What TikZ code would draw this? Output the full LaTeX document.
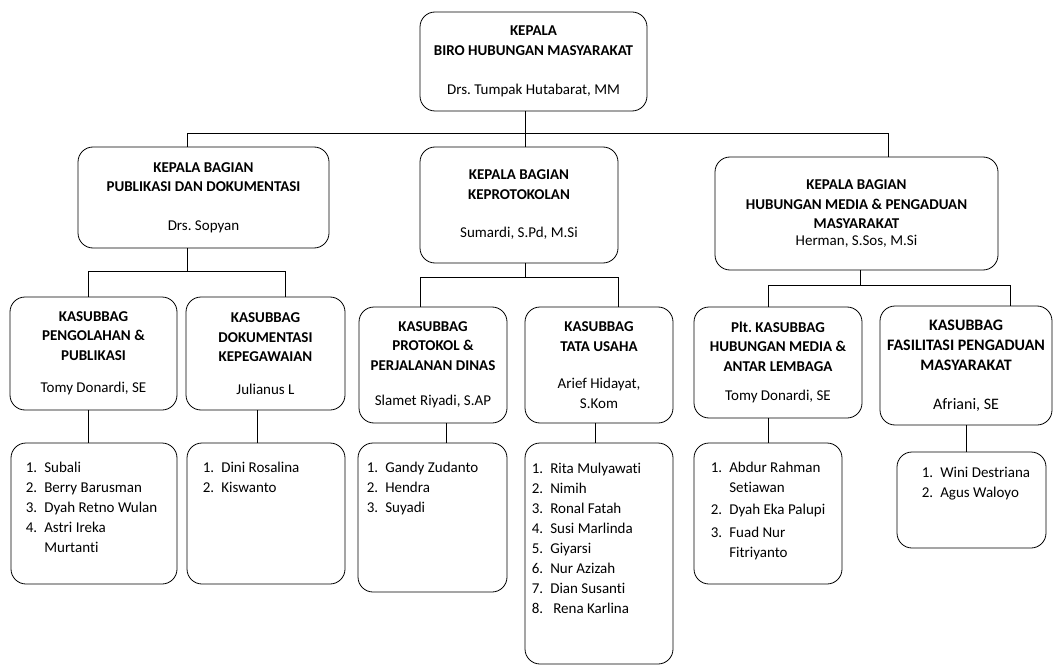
\documentclass[tikz,border=0pt]{standalone}
\usepackage{fontspec}
\setmainfont{Carlito}[Ligatures=NoCommon]
\usepackage{tikz}
\frenchspacing

\begin{document}
\begin{tikzpicture}[x=1pt,y=-1pt,
  every node/.style={inner sep=0pt},
  box/.style={draw=black, line width=0.8pt, rounded corners=15pt, align=center, font=\fontsize{15}{19.5}\selectfont},
  listbox/.style={draw=black, line width=0.8pt, rounded corners=15pt},
  listtext/.style={anchor=north west, align=left, font=\fontsize{15}{20}\selectfont},
  link/.style={draw=black, line width=0.8pt}]
\useasboundingbox (0,0) rectangle (1057,671);

\node[box, minimum width=227, minimum height=99] (kepala) at (533.5,61.5) {\textbf{KEPALA}\\\textbf{BIRO HUBUNGAN MASYARAKAT}\\[19.5pt]Drs. Tumpak Hutabarat, MM};

\node[box, minimum width=251, minimum height=101] (ka) at (203.5,197.5) {\textbf{KEPALA BAGIAN}\\\textbf{PUBLIKASI DAN DOKUMENTASI}\\[19pt]Drs. Sopyan};
\node[box, minimum width=198, minimum height=116] (kb) at (519,205) {\textbf{KEPALA BAGIAN}\\\textbf{KEPROTOKOLAN}\\[19pt]Sumardi, S.Pd, M.Si};
\node[box, minimum width=283, minimum height=113] (kc) at (856.5,213.5) {\textbf{KEPALA BAGIAN}\\\textbf{HUBUNGAN MEDIA \& PENGADUAN}\\\textbf{MASYARAKAT}\\[-3pt]Herman, S.Sos, M.Si};

\node[box, minimum width=167, minimum height=113] (sa) at (93.5,353.5) {\textbf{KASUBBAG}\\\textbf{PENGOLAHAN \&}\\\textbf{PUBLIKASI}\\[13pt]Tomy Donardi, SE};
\node[box, minimum width=159, minimum height=113] (sb) at (265.5,353.5) {\textbf{KASUBBAG}\\\textbf{DOKUMENTASI}\\\textbf{KEPEGAWAIAN}\\[13pt]Julianus L};
\node[box, minimum width=148, minimum height=116] (sc) at (433,365) {\textbf{KASUBBAG}\\\textbf{PROTOKOL \&}\\\textbf{PERJALANAN DINAS}\\[16pt]Slamet Riyadi, S.AP};
\node[box, minimum width=148, minimum height=116] (sd) at (599,365) {\textbf{KASUBBAG}\\\textbf{TATA USAHA}\\[18pt]Arief Hidayat,\\S.Kom};
\node[box, minimum width=168, minimum height=111] (se) at (778,362.5) {\textbf{Plt. KASUBBAG}\\\textbf{HUBUNGAN MEDIA \&}\\\textbf{ANTAR LEMBAGA}\\[10pt]Tomy Donardi, SE};
\node[box, minimum width=172, minimum height=119, font=\fontsize{16}{20}\selectfont] (sf) at (966,365.5) {\textbf{KASUBBAG}\\\textbf{FASILITASI PENGADUAN}\\\textbf{MASYARAKAT}\\[19pt]Afriani, SE};

\node[listbox, minimum width=166, minimum height=141] (la) at (94,513.5) {};
\node[listtext] (lat) at ([shift={(15,16)}]la.north west) {\begin{tabular}{@{}p{18.5pt}@{}l@{}}
1. & Subali\\ 2. & Berry Barusman\\ 3. & Dyah Retno Wulan\\ 4. & Astri Ireka\\ & Murtanti
\end{tabular}};
\node[listbox, minimum width=158, minimum height=141] (lb) at (266,513.5) {};
\node[listtext] (lbt) at ([shift={(16,16)}]lb.north west) {\begin{tabular}{@{}p{18.5pt}@{}l@{}}
1. & Dini Rosalina\\ 2. & Kiswanto
\end{tabular}};
\node[listbox, minimum width=149, minimum height=149] (lc) at (432.5,517.5) {};
\node[listtext] (lct) at ([shift={(9,16)}]lc.north west) {\begin{tabular}{@{}p{18.5pt}@{}l@{}}
1. & Gandy Zudanto\\ 2. & Hendra\\ 3. & Suyadi
\end{tabular}};
\node[listbox, minimum width=148, minimum height=221] (ld) at (599,553.5) {};
\node[listtext] (ldt) at ([shift={(7,17)}]ld.north west) {\begin{tabular}{@{}p{18.5pt}@{}l@{}}
1. & Rita Mulyawati\\ 2. & Nimih\\ 3. & Ronal Fatah\\ 4. & Susi Marlinda\\ 5. & Giyarsi\\
6. & Nur Azizah\\ 7. & Dian Susanti\\ 8. & \hspace{3pt}Rena Karlina
\end{tabular}};
\node[listbox, minimum width=148, minimum height=141] (le) at (768,513.5) {};
\node[listtext] (let) at ([shift={(17,16)}]le.north west) {\begin{tabular}{@{}p{18.5pt}@{}l@{}}
1. & Abdur Rahman\\ & Setiawan\\[2pt] 2. & Dyah Eka Palupi\\[3pt] 3. & Fuad Nur\\ & Fitriyanto
\end{tabular}};
\node[listbox, minimum width=149, minimum height=96] (lf) at (971.5,500) {};
\node[listtext] (lft) at ([shift={(25,12)}]lf.north west) {\begin{tabular}{@{}p{18.5pt}@{}l@{}}
1. & Wini Destriana\\ 2. & Agus Waloyo
\end{tabular}};

\coordinate (busL) at (187,133);
\coordinate (busM) at (525,133);
\coordinate (busR) at (888,133);
\coordinate (pa) at (88,271);
\coordinate (pb) at (285,271);
\coordinate (pc) at (420,277);
\coordinate (pd) at (618,277);
\coordinate (pe) at (768,285);
\coordinate (pf) at (1010,285);

\draw[link] (kepala.south -| busM) -- (kb.north -| busM);
\draw[link] (ka.north -| busL) -- (busL) -- (busR) -- (kc.north -| busR);

\draw[link] (ka.south -| busL) -- (busL |- pa);
\draw[link] (sa.north -| pa) -- (pa) -- (pb) -- (sb.north -| pb);
\draw[link] (kb.south -| busM) -- (busM |- pc);
\draw[link] (sc.north -| pc) -- (pc) -- (pd) -- (sd.north -| pd);
\draw[link] ([xshift=3.5]kc.south) -- ([xshift=3.5]kc.south |- pe);
\draw[link] (se.north -| pe) -- (pe) -- (pf) -- (sf.north -| pf);

\draw[link] (sa.south -| pa) -- (la.north -| pa);
\draw[link] ([xshift=-8.5]sb.south) -- ([xshift=-8.5]sb.south |- lb.north);
\draw[link] ([xshift=13]sc.south) -- ([xshift=13]sc.south |- lc.north);
\draw[link] ([xshift=-4]sd.south) -- ([xshift=-4]sd.south |- ld.north);
\draw[link] (se.south -| pe) -- (le.north -| pe);
\draw[link] (sf.south) -- (sf.south |- lf.north);
\end{tikzpicture}
\end{document}
